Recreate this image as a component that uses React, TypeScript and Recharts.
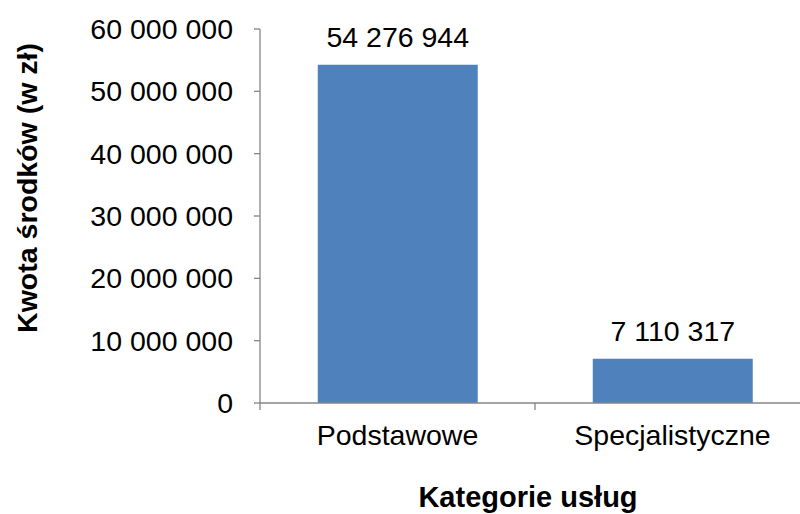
import React from 'react';
import { BarChart, Bar, XAxis, YAxis, LabelList, Label } from 'recharts';

const categories = ['Podstawowe', 'Specjalistyczne'];
const amounts = [54276944, 7110317];
const yTicks = [0, 10000000, 20000000, 30000000, 40000000, 50000000, 60000000];
const xTitle = 'Kategorie usług';
const yTitle = 'Kwota środków (w zł)';

const data = categories.map((c, i) => ({ category: c, value: amounts[i] }));

const fmt = (v: number) => String(Math.round(v)).replace(/\B(?=(\d{3})+(?!\d))/g, ' ');

const FONT = '"Liberation Sans", Arial, sans-serif';
const FS = 28.5;
const AXIS = '#868686';

const XTick = (props: any) => {
  const { x, y, payload, index, width, visibleTicksCount } = props;
  const off = payload && payload.offset != null ? payload.offset : width / (2 * (visibleTicksCount || 2));
  const axisY = y - 22;
  return (
    <g>
      {index === 0 && <line x1={x - off} x2={x - off} y1={axisY} y2={axisY + 7} stroke={AXIS} strokeWidth={1.3} />}
      <line x1={x + off} x2={x + off} y1={axisY} y2={axisY + 7} stroke={AXIS} strokeWidth={1.3} />
      <text x={x} y={y} dy="0.71em" textAnchor="middle" fill="#000" fontSize={FS} fontFamily={FONT}>
        {payload.value}
      </text>
    </g>
  );
};

export default function App() {
  return (
    <div style={{ position: 'fixed', left: 0, top: 0, width: 800, height: 514, overflow: 'hidden', background: '#fff' }}>
      <BarChart
        width={820}
        height={514}
        data={data}
        margin={{ top: 29, right: 10, bottom: 51, left: 0 }}
        barCategoryGap="21%"
      >
        <XAxis
          dataKey="category"
          height={60}
          tickLine={false}
          tickSize={7}
          tickMargin={15}
          axisLine={{ stroke: AXIS, strokeWidth: 1.3 }}
          tick={<XTick />}
          interval={0}
        >
          <Label
            content={(p: any) => {
              const vb = p.viewBox;
              return (
                <text
                  x={vb.x + vb.width / 2 - 7}
                  y={vb.y + 104}
                  textAnchor="middle"
                  fill="#000"
                  fontSize={29}
                  fontWeight="bold"
                  fontFamily={FONT}
                >
                  {xTitle}
                </text>
              );
            }}
          />
        </XAxis>
        <YAxis
          width={260}
          domain={[0, 60000000]}
          ticks={yTicks}
          interval={0}
          tickFormatter={fmt}
          tickSize={6}
          tickMargin={21}
          axisLine={{ stroke: AXIS, strokeWidth: 1.3 }}
          tickLine={{ stroke: AXIS, strokeWidth: 1.3 }}
          tick={{ fill: '#000', fontSize: FS, fontFamily: FONT }}
        >
          <Label
            content={(p: any) => {
              const vb = p.viewBox;
              const cx = vb.x + 37;
              const cy = vb.y + 159;
              return (
                <text
                  x={cx}
                  y={cy}
                  transform={`rotate(-90, ${cx}, ${cy})`}
                  textAnchor="middle"
                  fill="#000"
                  fontSize={28.5}
                  fontWeight="bold"
                  fontFamily={FONT}
                >
                  {yTitle}
                </text>
              );
            }}
          />
        </YAxis>
        <Bar dataKey="value" fill="#4F81BD" isAnimationActive={false}>
          <LabelList
            dataKey="value"
            position="top"
            offset={18}
            formatter={(v: any) => fmt(Number(v))}
            fill="#000"
            fontSize={FS}
            fontFamily={FONT}
          />
        </Bar>
      </BarChart>
    </div>
  );
}
